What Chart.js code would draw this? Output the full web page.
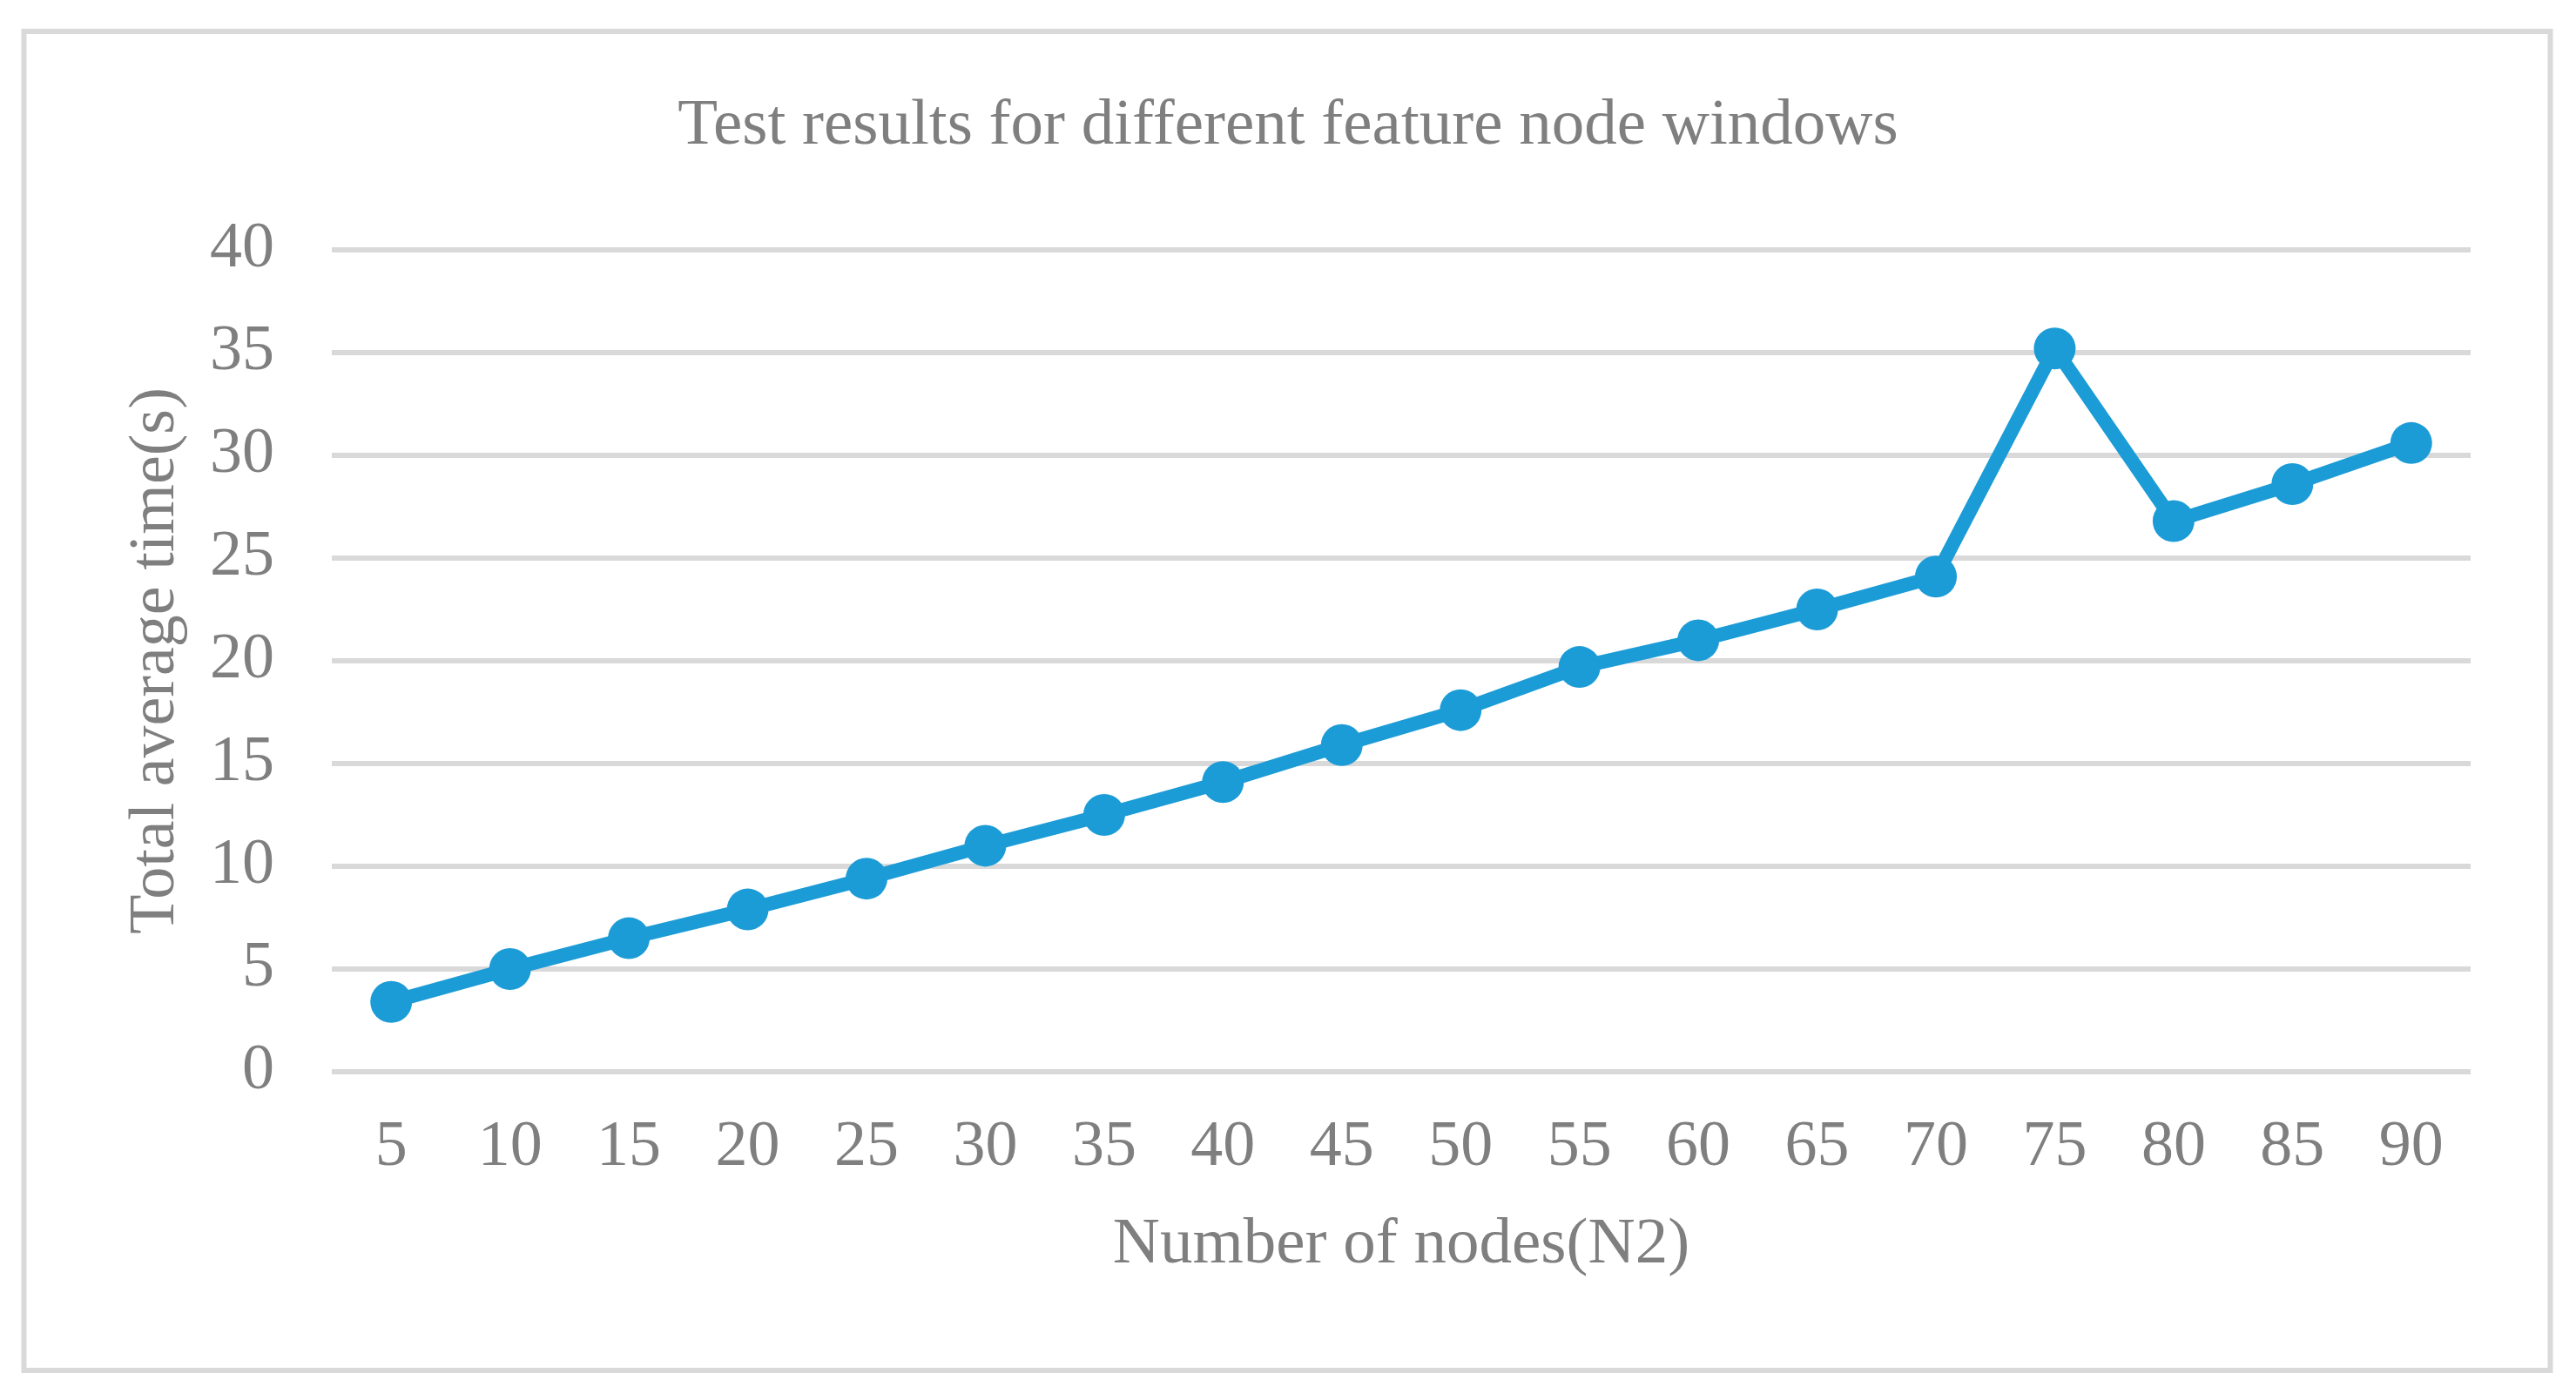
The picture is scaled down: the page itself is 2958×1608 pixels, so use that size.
<!DOCTYPE html>
<html>
<head>
<meta charset="utf-8">
<script src="https://cdn.jsdelivr.net/npm/chart.js@4.4.0/dist/chart.umd.min.js"></script>
<style>
  html, body { margin: 0; padding: 0; background: #fff; }
</style>
</head>
<body>
<canvas id="graficoTempo" width="2958" height="1608"></canvas>
<script>
// ================================
// DADOS
// ================================
const nodes = [5, 10, 15, 20, 25, 30, 35, 40, 45, 50, 55, 60, 65, 70, 75, 80, 85, 90];
const avgTime = [3.4, 5.0, 6.5, 7.9, 9.4, 11.0, 12.5, 14.1, 15.9, 17.6, 19.7, 21.0, 22.5, 24.1, 35.2, 26.8, 28.6, 30.6];
const yTicks = [0, 5, 10, 15, 20, 25, 30, 35, 40];

const FONTE = '"Liberation Serif", "Times New Roman", serif';
const CINZA = "#7f7f7f";
const AZUL = "#1c9cd7";

// ================================
// MOLDURA (borda cinza + fundo branco)
// ================================
const moldura = {
  id: "moldura",
  beforeDraw(chart) {
    const { ctx, width, height } = chart;
    ctx.save();
    ctx.fillStyle = "#fff";
    ctx.fillRect(0, 0, width, height);
    ctx.strokeStyle = "#d9d9d9";
    ctx.lineWidth = 6;
    ctx.strokeRect(27.5, 36, width - 57, height - 70);
    ctx.restore();
  },
};

// ================================
// GRÁFICO
// ================================
const ctx = document.getElementById("graficoTempo").getContext("2d");

new Chart(ctx, {
  type: "line",
  data: {
    labels: nodes.map(String),
    datasets: [
      {
        data: avgTime,
        borderColor: AZUL,
        backgroundColor: AZUL,
        borderWidth: 16,
        tension: 0,
        pointRadius: 24,
        pointBorderWidth: 0,
        pointBackgroundColor: AZUL,
        clip: false,
      },
    ],
  },
  options: {
    responsive: false,
    animation: false,
    layout: { padding: { top: 40, left: 121, right: 121, bottom: 133 } },
    plugins: {
      legend: { display: false },
      tooltip: { enabled: false },
      title: {
        display: true,
        text: "Test results for different feature node windows",
        color: CINZA,
        font: { family: FONTE, size: 75, weight: "normal", lineHeight: 1.2 },
        padding: { top: 60, bottom: 97 },
      },
    },
    scales: {
      x: {
        offset: true,
        grid: { display: false, drawTicks: false },
        border: { display: false },
        afterFit: (scale) => {
          scale.height = 244;
        },
        ticks: {
          color: CINZA,
          padding: 43,
          maxRotation: 0,
          autoSkip: false,
          font: { family: FONTE, size: 74, lineHeight: 1.2 },
        },
        title: {
          display: true,
          text: "Number of nodes(N2)",
          color: CINZA,
          font: { family: FONTE, size: 75, lineHeight: 1.2 },
          padding: { top: 20, bottom: 0 },
        },
      },
      y: {
        min: 0,
        max: 40,
        grid: { color: "#d9d9d9", lineWidth: 6, drawTicks: false },
        border: { display: false },
        afterBuildTicks: (scale) => {
          scale.ticks = yTicks.map((v) => ({ value: v }));
        },
        afterFit: (scale) => {
          scale.width = 260;
        },
        ticks: {
          color: CINZA,
          padding: 66,
          font: { family: FONTE, size: 74, lineHeight: 1.2 },
        },
        title: {
          display: true,
          text: "Total average time(s)",
          color: CINZA,
          font: { family: FONTE, size: 74, lineHeight: 1.2 },
          padding: { top: 14, bottom: 0 },
        },
      },
    },
  },
  plugins: [moldura],
});
</script>
</body>
</html>
